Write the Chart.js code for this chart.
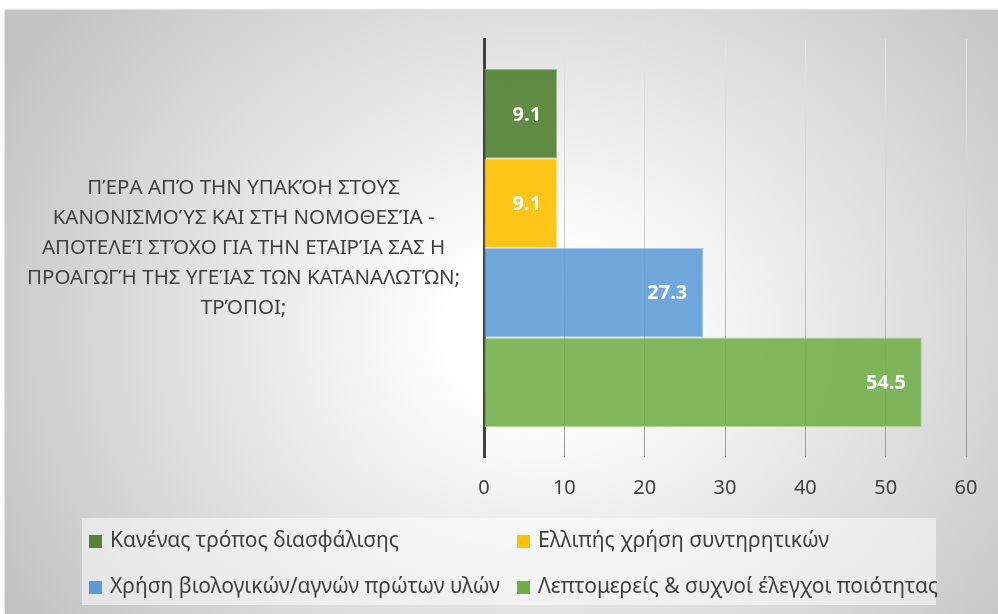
<!DOCTYPE html>
<html><head><meta charset="utf-8">
<script src="https://cdn.jsdelivr.net/npm/chart.js@4"></script>
<style>
html,body{margin:0;padding:0;background:#fff;width:998px;height:614px;overflow:hidden}
#wrap{position:absolute;left:5px;top:10px;width:993px;height:604px;background:radial-gradient(ellipse 620px 520px at 535px 320px,#ffffff 0%,#ffffff 15%,#c2c2c2 100%);box-shadow:0 0 2px rgba(0,0,0,0.35)}
canvas{display:block}
</style></head><body><div id="wrap"><canvas id="c" width="993" height="604"></canvas></div>
<script>
const categories = [[
  "ΠΈΡΑ ΑΠΌ ΤΗΝ ΥΠΑΚΌΗ ΣΤΟΥΣ",
  "ΚΑΝΟΝΙΣΜΟΎΣ ΚΑΙ ΣΤΗ ΝΟΜΟΘΕΣΊΑ -",
  "ΑΠΟΤΕΛΕΊ ΣΤΌΧΟ ΓΙΑ ΤΗΝ ΕΤΑΙΡΊΑ ΣΑΣ Η",
  "ΠΡΟΑΓΩΓΉ ΤΗΣ ΥΓΕΊΑΣ ΤΩΝ ΚΑΤΑΝΑΛΩΤΏΝ;",
  "ΤΡΌΠΟΙ;"
]];
const seriesNames = [
  "Κανένας τρόπος διασφάλισης",
  "Ελλιπής χρήση συντηρητικών",
  "Χρήση βιολογικών/αγνών πρώτων υλών",
  "Λεπτομερείς & συχνοί έλεγχοι ποιότητας"
];
const seriesValues = [[9.1], [9.1], [27.3], [54.5]];
const seriesColors = ["rgba(84,130,53,0.92)", "rgba(255,192,0,0.9)", "rgba(91,155,213,0.88)", "rgba(112,173,71,0.88)"];
const seriesBorders = ["rgba(150,175,130,0.9)", "rgba(255,220,120,0.9)", "rgba(160,195,230,0.9)", "rgba(170,210,140,0.9)"];
const legendSwatch = ["#548235", "#FFC000", "#5B9BD5", "#70AD47"];
const xTicks = [0, 10, 20, 30, 40, 50, 60];

const FONT = "'Noto Sans', 'DejaVu Sans', sans-serif";
const TXT = "#404040";

const valueLabels = {
  id: 'valueLabels',
  afterDatasetsDraw(chart) {
    const ctx = chart.ctx;
    ctx.save();
    ctx.font = "bold 20px " + FONT;
    ctx.fillStyle = "#ffffff";
    ctx.textAlign = "right";
    ctx.textBaseline = "middle";
    chart.data.datasets.forEach((ds, i) => {
      const meta = chart.getDatasetMeta(i);
      meta.data.forEach((bar, j) => {
        ctx.fillText(ds.data[j].toFixed(1), bar.x - 16, bar.y + 1);
      });
    });
    ctx.restore();
  }
};

const gridLegend = {
  id: 'gridLegend',
  afterDraw(chart) {
    const ctx = chart.ctx;
    ctx.save();
    ctx.fillStyle = "rgba(255,255,255,0.5)";
    ctx.fillRect(77, 508, 854, 87);
    ctx.font = "21px " + FONT;
    ctx.textBaseline = "middle";
    ctx.textAlign = "left";
    const cols = [84, 512], rows = [531, 577];
    chart.data.datasets.forEach((ds, i) => {
      const x = cols[i % 2], y = rows[Math.floor(i / 2)];
      ctx.fillStyle = legendSwatch[i];
      ctx.fillRect(x, y - 6, 13, 13);
      ctx.fillStyle = TXT;
      ctx.fillText(ds.label, x + 21, y);
    });
    ctx.restore();
  }
};

function gridGradient(c) {
  const ca = c.chart.chartArea;
  if (!ca) return "#d0d0d0";
  const g = c.chart.ctx.createLinearGradient(0, ca.top, 0, ca.bottom);
  g.addColorStop(0, "#e4e4e4");
  g.addColorStop(0.5, "#cccccc");
  g.addColorStop(0.85, "#a8a8a8");
  g.addColorStop(1, "#999999");
  return g;
}

new Chart(document.getElementById('c'), {
  type: 'bar',
  data: {
    labels: categories,
    datasets: seriesNames.map((n, i) => ({
      label: n,
      data: seriesValues[i],
      backgroundColor: seriesColors[i],
      borderColor: seriesBorders[i],
      borderWidth: 1,
      categoryPercentage: 0.856,
      barPercentage: 1.0
    }))
  },
  options: {
    indexAxis: 'y',
    responsive: false,
    animation: false,
    devicePixelRatio: 1,
    layout: { padding: { left: 0, top: 29, right: 32, bottom: 97 } },
    plugins: { legend: { display: false }, tooltip: { enabled: false } },
    scales: {
      x: {
        min: 0, max: 60,
        afterBuildTicks: (s) => { s.ticks = xTicks.map(v => ({ value: v })); },
        afterFit: (s) => { s.height = 60; s.paddingLeft = 0; s.paddingRight = 0; },
        grid: { color: gridGradient, lineWidth: 1, drawTicks: false },
        border: { display: false },
        ticks: { color: TXT, font: { family: FONT, size: 20 }, padding: 19 }
      },
      y: {
        afterFit: (s) => { s.width = 479; s.paddingTop = 0; s.paddingBottom = 0; },
        grid: { display: false, drawTicks: false },
        border: { display: true, color: "#404040", width: 3 },
        ticks: { color: TXT, crossAlign: 'center', padding: 24, font: { family: FONT, size: 20.5, lineHeight: 1.46 } }
      }
    }
  },
  plugins: [valueLabels, gridLegend]
});
</script></body></html>
